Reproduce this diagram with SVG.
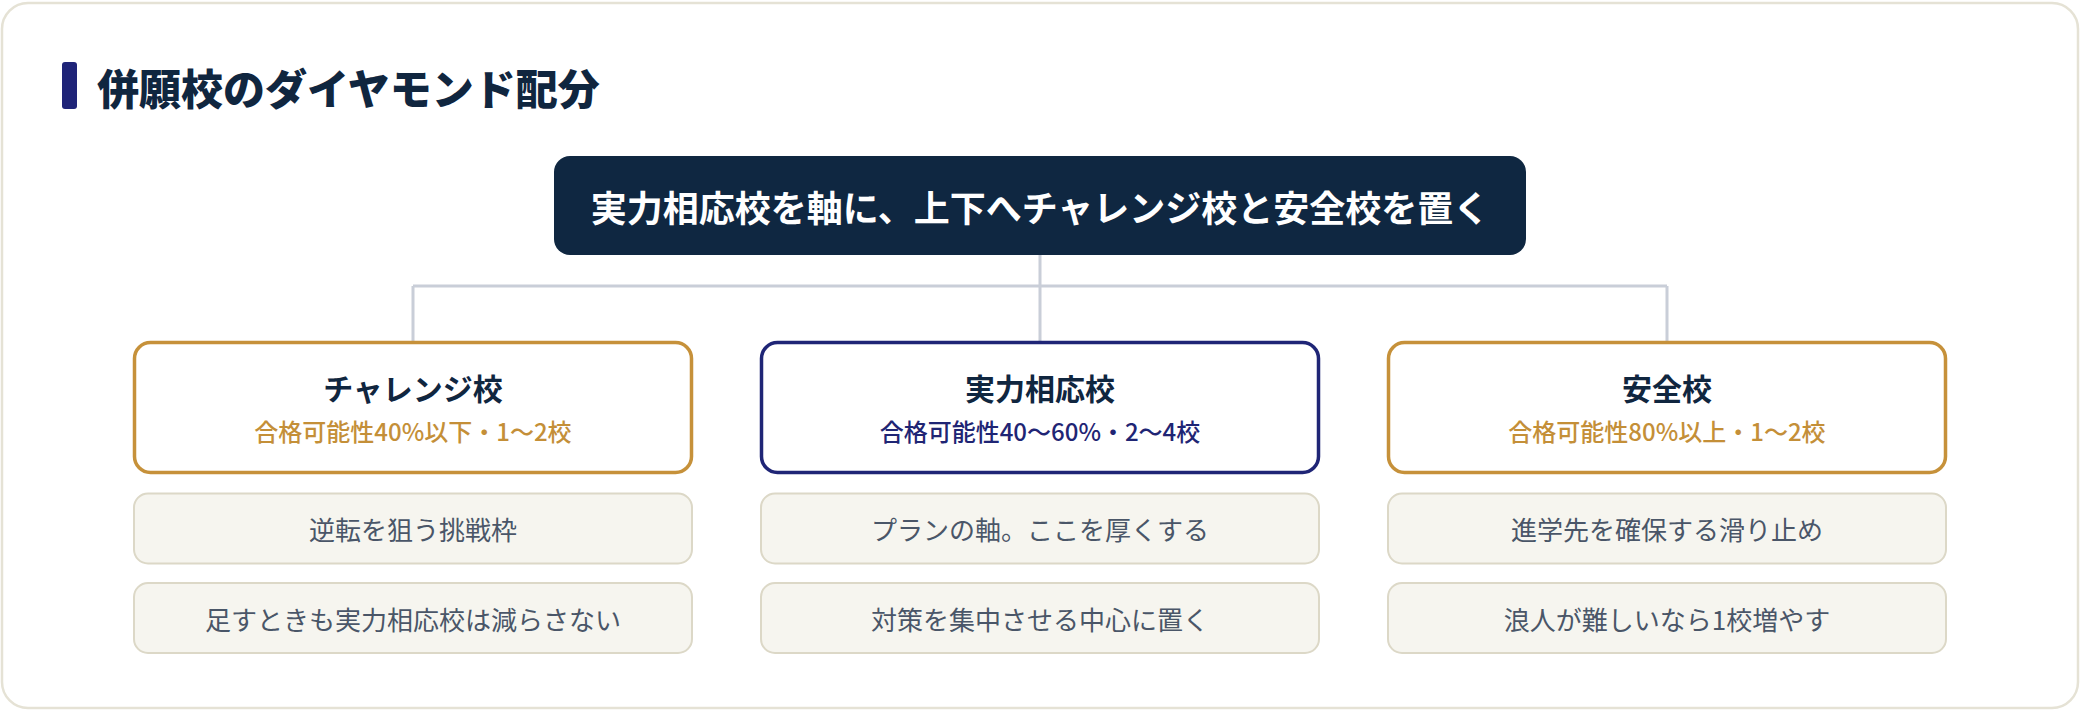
<svg xmlns="http://www.w3.org/2000/svg" width="2080" height="710" viewBox="0 0 2080 710">
<style>
.jp{font-family:"Noto Sans CJK JP","Noto Sans",sans-serif;}
.title{font-size:42px;font-weight:800;fill:#10263f;}
.main{font-size:36px;font-weight:700;fill:#ffffff;}
.htitle{font-size:30px;font-weight:700;fill:#10263f;}
.sub{font-size:24px;font-weight:500;}
.gold{fill:#c48f38;}
.navy{fill:#1f2574;}
.item{font-size:26px;font-weight:400;fill:#4a5668;}
.hcard{fill:#ffffff;stroke-width:3.5;}
.hgold{stroke:#c6913a;}
.hnavy{stroke:#1f2576;}
.ibox{fill:#f6f5ef;stroke:#dcd8c7;stroke-width:2;}
.conn{fill:none;stroke:#c9ced8;stroke-width:3;}
</style>
<rect x="0" y="0" width="2080" height="710" fill="#ffffff"/>
<rect x="2" y="3" width="2076" height="705" rx="26" fill="#ffffff" stroke="#e5e2d5" stroke-width="2.5"/>
<g id="heading">
<rect x="62" y="62" width="15" height="47" rx="3" fill="#1f2478"/>
<text class="jp title" x="97" y="105">併願校のダイヤモンド配分</text>
</g>
<g id="connectors">
<path class="conn" d="M1040 255 V286 M413 286 H1667 M413 286 V342 M1040 286 V342 M1667 286 V342"/>
</g>
<g id="root">
<rect x="554" y="156" width="972" height="99" rx="16" fill="#0f2741"/>
<text class="jp main" x="1040" y="222" text-anchor="middle">実力相応校を軸に、上下へチャレンジ校と安全校を置く</text>
</g>
<g id="challenge">
<rect class="hcard hgold" x="134.5" y="342.5" width="557" height="130" rx="16"/>
<text class="jp htitle" x="413" y="400" text-anchor="middle">チャレンジ校</text>
<text class="jp sub gold" x="413" y="441" text-anchor="middle">合格可能性40%以下・1〜2校</text>
</g>
<g id="challenge-item1">
<rect class="ibox" x="134" y="493.5" width="558" height="70" rx="14"/>
<text class="jp item" x="413" y="540" text-anchor="middle">逆転を狙う挑戦枠</text>
</g>
<g id="challenge-item2">
<rect class="ibox" x="134" y="583" width="558" height="70" rx="14"/>
<text class="jp item" x="413" y="630" text-anchor="middle">足すときも実力相応校は減らさない</text>
</g>
<g id="match">
<rect class="hcard hnavy" x="761.5" y="342.5" width="557" height="130" rx="16"/>
<text class="jp htitle" x="1040" y="400" text-anchor="middle">実力相応校</text>
<text class="jp sub navy" x="1040" y="441" text-anchor="middle">合格可能性40〜60%・2〜4校</text>
</g>
<g id="match-item1">
<rect class="ibox" x="761" y="493.5" width="558" height="70" rx="14"/>
<text class="jp item" x="1040" y="540" text-anchor="middle">プランの軸。ここを厚くする</text>
</g>
<g id="match-item2">
<rect class="ibox" x="761" y="583" width="558" height="70" rx="14"/>
<text class="jp item" x="1040" y="630" text-anchor="middle">対策を集中させる中心に置く</text>
</g>
<g id="safe">
<rect class="hcard hgold" x="1388.5" y="342.5" width="557" height="130" rx="16"/>
<text class="jp htitle" x="1667" y="400" text-anchor="middle">安全校</text>
<text class="jp sub gold" x="1667" y="441" text-anchor="middle">合格可能性80%以上・1〜2校</text>
</g>
<g id="safe-item1">
<rect class="ibox" x="1388" y="493.5" width="558" height="70" rx="14"/>
<text class="jp item" x="1667" y="540" text-anchor="middle">進学先を確保する滑り止め</text>
</g>
<g id="safe-item2">
<rect class="ibox" x="1388" y="583" width="558" height="70" rx="14"/>
<text class="jp item" x="1667" y="630" text-anchor="middle">浪人が難しいなら1校増やす</text>
</g>
</svg>
